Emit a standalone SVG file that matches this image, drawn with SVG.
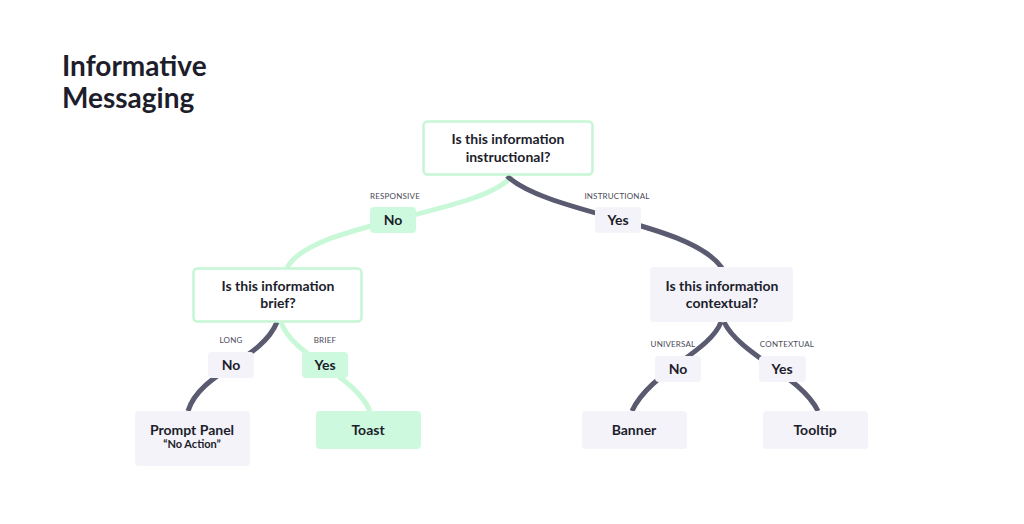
<svg xmlns="http://www.w3.org/2000/svg" width="1024" height="524" viewBox="0 0 1024 524">
<style>
.t{font-family:Lato,"Liberation Sans",sans-serif;font-weight:700;fill:#1d1d2c;text-anchor:middle}
.q{font-size:14px}
.s{font-family:Lato,"Liberation Sans",sans-serif;font-size:8px;fill:#4a4a58;text-anchor:middle;letter-spacing:0.2px}
.g{fill:#f3f3f9}
.gr{fill:#cdfadf}
.qb{fill:#fff;stroke:#c6f6d5;stroke-width:2.5}
.ld{fill:none;stroke:#5a5a70;stroke-width:5}
.lg{fill:none;stroke:#c9f8d9;stroke-width:5}
</style>
<rect width="1024" height="524" fill="#fff"/>
<g id="title">
<text class="t" x="62" y="76" style="font-size:28px;text-anchor:start">Informative</text>
<text class="t" x="62" y="108" style="font-size:28px;text-anchor:start">Messaging</text>
</g>
<g id="connectors">
<path class="lg" d="M512,176 C480,215 310,222 287,268"/>
<path class="ld" d="M507,176 C550,215 690,222 722,268"/>
<path class="ld" d="M277,322 C262,360 200,372 188,411"/>
<path class="lg" d="M281,322 C292,356 355,375 370,411"/>
<path class="ld" d="M721,322 C710,352 650,372 632,411"/>
<path class="ld" d="M724,322 C740,355 800,375 818,411"/>
</g>
<g id="q1">
<rect class="qb" x="423.5" y="121.5" width="169" height="53" rx="4"/>
<text class="t q" x="508" y="144">Is this information</text>
<text class="t q" x="508" y="162">instructional?</text>
</g>
<g id="l-responsive">
<text class="s" x="395" y="199">RESPONSIVE</text>
<rect class="gr" x="370" y="207" width="46" height="26" rx="4"/>
<text class="t q" x="393" y="225">No</text>
</g>
<g id="l-instructional">
<text class="s" x="617" y="199">INSTRUCTIONAL</text>
<rect class="g" x="595" y="207" width="46" height="26" rx="4"/>
<text class="t q" x="618" y="225">Yes</text>
</g>
<g id="q2">
<rect class="qb" x="193.5" y="268.5" width="168" height="53" rx="4"/>
<text class="t q" x="278" y="291">Is this information</text>
<text class="t q" x="278" y="308">brief?</text>
</g>
<g id="q3">
<rect class="g" x="650" y="267" width="143" height="55" rx="4"/>
<text class="t q" x="722" y="291">Is this information</text>
<text class="t q" x="722" y="308">contextual?</text>
</g>
<g id="l-long">
<text class="s" x="231" y="343">LONG</text>
<rect class="g" x="208" y="352" width="46" height="26" rx="4"/>
<text class="t q" x="231" y="370">No</text>
</g>
<g id="l-brief">
<text class="s" x="325" y="343">BRIEF</text>
<rect class="gr" x="302" y="352" width="46" height="26" rx="4"/>
<text class="t q" x="325" y="370">Yes</text>
</g>
<g id="l-universal">
<text class="s" x="673" y="347">UNIVERSAL</text>
<rect class="g" x="655" y="356" width="46" height="26" rx="4"/>
<text class="t q" x="678" y="374">No</text>
</g>
<g id="l-contextual">
<text class="s" x="787" y="347">CONTEXTUAL</text>
<rect class="g" x="759" y="356" width="47" height="26" rx="4"/>
<text class="t q" x="782" y="374">Yes</text>
</g>
<g id="prompt-panel">
<rect class="g" x="135" y="411" width="115" height="55" rx="4"/>
<text class="t q" x="192" y="435">Prompt Panel</text>
<text class="t" x="192" y="448" style="font-size:11px">“No Action”</text>
</g>
<g id="toast">
<rect class="gr" x="316" y="411" width="105" height="38" rx="4"/>
<text class="t q" x="368" y="435">Toast</text>
</g>
<g id="banner">
<rect class="g" x="582" y="411" width="105" height="38" rx="4"/>
<text class="t q" x="634" y="435">Banner</text>
</g>
<g id="tooltip">
<rect class="g" x="763" y="411" width="105" height="38" rx="4"/>
<text class="t q" x="815" y="435">Tooltip</text>
</g>
</svg>
